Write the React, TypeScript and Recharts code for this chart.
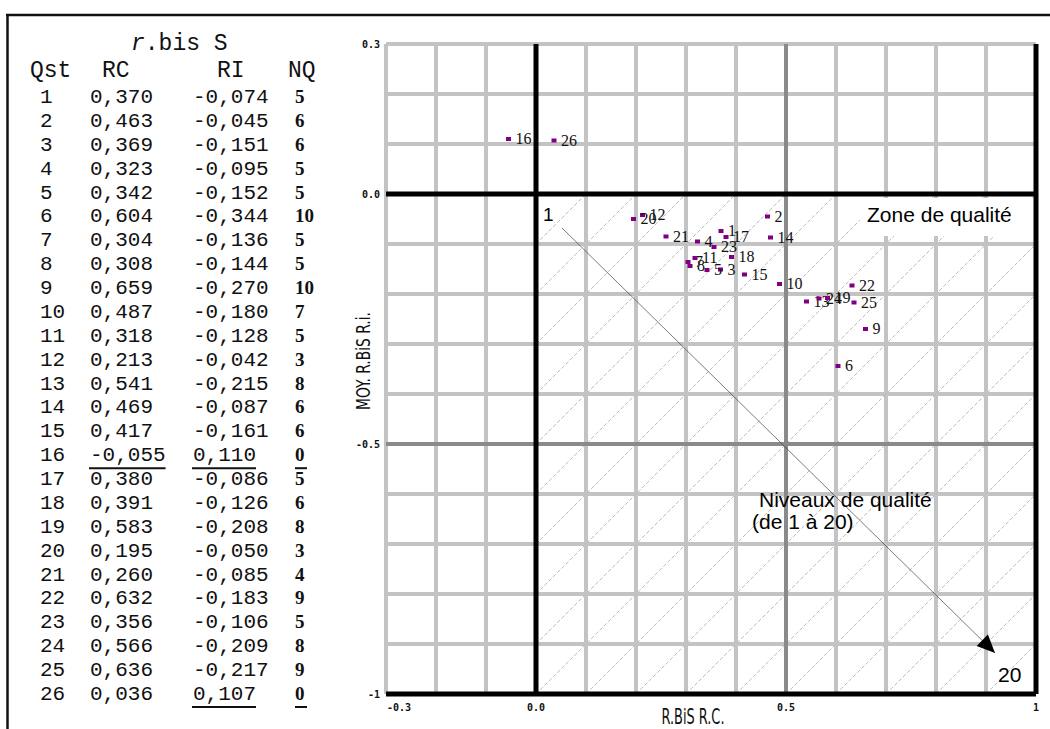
import React from "react";
import {
  ScatterChart,
  Scatter,
  XAxis,
  YAxis,
  CartesianGrid,
  ReferenceLine,
  ReferenceDot,
} from "recharts";

// table / series data (Qst, RC = x, RI = y, NQ)
const questions = [1, 2, 3, 4, 5, 6, 7, 8, 9, 10, 11, 12, 13, 14, 15, 16, 17, 18, 19, 20, 21, 22, 23, 24, 25, 26];
const rcValues = [0.37, 0.463, 0.369, 0.323, 0.342, 0.604, 0.304, 0.308, 0.659, 0.487, 0.318, 0.213, 0.541, 0.469, 0.417, -0.055, 0.38, 0.391, 0.583, 0.195, 0.26, 0.632, 0.356, 0.566, 0.636, 0.036];
const riValues = [-0.074, -0.045, -0.151, -0.095, -0.152, -0.344, -0.136, -0.144, -0.27, -0.18, -0.128, -0.042, -0.215, -0.087, -0.161, 0.11, -0.086, -0.126, -0.208, -0.05, -0.085, -0.183, -0.106, -0.209, -0.217, 0.107];
const nqValues = [5, 6, 6, 5, 5, 10, 5, 5, 10, 7, 5, 3, 8, 6, 6, 0, 5, 6, 8, 3, 4, 9, 5, 8, 9, 0];
const underlinedRC = [16];
const underlinedRI = [16, 26];
const underlinedNQ = [16, 26];

// axes
const xGridTicks = [-0.3, -0.2, -0.1, 0, 0.1, 0.2, 0.3, 0.4, 0.5, 0.6, 0.7, 0.8, 0.9, 1];
const yGridTicks = [0.3, 0.2, 0.1, 0, -0.1, -0.2, -0.3, -0.4, -0.5, -0.6, -0.7, -0.8, -0.9, -1];
const xLabelValues = [-0.3, 0, 0.5, 1];
const xLabelTexts = ["-0.3", "0.0", "0.5", "1"];
const yLabelValues = [0.3, 0, -0.5, -1];
const yLabelTexts = ["0.3", "0.0", "-0.5", "-1"];

// annotations (data coordinates)
const noteTexts = ["1", "20", "Zone de qualité", "Niveaux de qualité", "(de 1 à 20)"];
const noteX = [0.014, 0.924, 0.662, 0.446, 0.432];
const noteY = [-0.054, -0.976, -0.056, -0.626, -0.67];
const noteSizes = [19, 21, 21, 21, 21];
const arrowFrom = { x: 0.052, y: -0.068 };
const arrowTo = { x: 0.918, y: -0.918 };

const points = questions.map((q, i) => ({ q, x: rcValues[i], y: riValues[i] }));

// diagonal hatching of the x>=0, y<=0 quadrant, one diagonal per grid cell
const hatch = Array.from({ length: 19 }, (_, i) => {
  const k = Math.round((i + 1) * 10) / 100;
  const x1 = Math.max(0, k - 1);
  const x2 = Math.min(1, k);
  return [
    { x: x1, y: x1 - k },
    { x: x2, y: x2 - k },
  ];
});

const fmt = (v: number) => v.toFixed(3).replace(".", ",");
const near = (a: number, b: number) => Math.abs(a - b) < 1e-6;

const tickFont = "'DejaVu Sans Mono', monospace";

const XTick = (props: any) => {
  const { x, y, payload } = props;
  const i = xLabelValues.findIndex((v) => near(v, payload.value));
  if (i < 0) return <g />;
  return (
    <text
      x={i === 0 ? x + 1 : x}
      y={y + 4}
      textAnchor={i === 0 ? "start" : "middle"}
      fontFamily={tickFont}
      fontWeight="bold"
      fontSize={10}
      fill="#111"
    >
      {xLabelTexts[i]}
    </text>
  );
};

const YTick = (props: any) => {
  const { x, y, payload } = props;
  const i = yLabelValues.findIndex((v) => near(v, payload.value));
  if (i < 0) return <g />;
  return (
    <text x={x} y={y + 4} textAnchor="end" fontFamily={tickFont} fontWeight="bold" fontSize={10} fill="#111">
      {yLabelTexts[i]}
    </text>
  );
};

const PointShape = (props: any) => {
  const { cx, cy, payload } = props;
  return (
    <g>
      <rect x={cx - 2.5} y={cy - 2} width={5} height={4} fill="#800080" />
      <text x={cx + 7} y={cy + 5} fontFamily="'Liberation Serif', 'Times New Roman', serif" fontSize={16} fill="#111">
        {payload.q}
      </text>
    </g>
  );
};

const noteShape = (i: number) => (props: any) => {
  const { cx, cy } = props;
  return (
    <g>
      {i === 2 && <rect x={cx - 7} y={cy - 24} width={172} height={38} fill="#fff" />}
      <text x={cx} y={cy} fontFamily="'Liberation Sans', Arial, sans-serif" fontSize={noteSizes[i]} fill="#000">
        {noteTexts[i]}
      </text>
    </g>
  );
};

const ArrowHead = (props: any) => {
  const { cx, cy } = props;
  const d = 18 / Math.SQRT2;
  const w = 8 / Math.SQRT2;
  const bx = cx - d;
  const by = cy - d;
  return <polygon points={`${cx},${cy} ${bx + w},${by - w} ${bx - w},${by + w}`} fill="#000" />;
};

const mono = "'Liberation Mono', 'Courier New', monospace";
const rowBase = 103;
const rowStep = 23.88;
const charW = 12.6;

function Table() {
  return (
    <svg width={1050} height={729} style={{ position: "absolute", left: 0, top: 0, pointerEvents: "none" }}>
      <line x1={6} y1={15} x2={1050} y2={15} stroke="#111" strokeWidth={2.5} />
      <line x1={7.5} y1={14} x2={7.5} y2={729} stroke="#111" strokeWidth={2.5} />
      <text x={131} y={50} fontFamily={mono} fontSize={23} fill="#111">
        <tspan fontStyle="italic">r</tspan>.bis S
      </text>
      <text y={77} fontFamily={mono} fontSize={23} fill="#111">
        <tspan x={30}>Qst</tspan>
        <tspan x={102}>RC</tspan>
        <tspan x={217}>RI</tspan>
        <tspan x={288}>NQ</tspan>
      </text>
      {questions.map((q, i) => {
        const y = rowBase + i * rowStep;
        const rc = fmt(rcValues[i]);
        const ri = fmt(riValues[i]);
        return (
          <g key={q}>
            <text y={y} fontFamily={mono} fontSize={21} fill="#111">
              <tspan x={40}>{q}</tspan>
              <tspan x={90}>{rc}</tspan>
              <tspan x={193}>{ri}</tspan>
            </text>
            <text x={295} y={y} fontFamily="'Liberation Serif', serif" fontWeight="bold" fontSize={19} fill="#111">
              {nqValues[i]}
            </text>
            {underlinedRC.includes(q) && (
              <line x1={89} x2={90 + rc.length * charW} y1={y + 7} y2={y + 7} stroke="#111" strokeWidth={2} />
            )}
            {underlinedRI.includes(q) && (
              <line x1={192} x2={193 + ri.length * charW} y1={y + 7} y2={y + 7} stroke="#111" strokeWidth={2} />
            )}
            {underlinedNQ.includes(q) && (
              <line x1={295} x2={307} y1={y + 7} y2={y + 7} stroke="#111" strokeWidth={2} />
            )}
          </g>
        );
      })}
      <text
        x={693}
        y={724}
        textAnchor="middle"
        fontFamily="'Liberation Sans Narrow', 'DejaVu Sans Condensed', sans-serif"
        fontSize={21}
        textLength={63}
        lengthAdjust="spacingAndGlyphs"
        fill="#111"
      >
        R.BiS R.C.
      </text>
      <text
        x={370}
        y={361}
        transform="rotate(-90 370 361)"
        textAnchor="middle"
        fontFamily="'Liberation Sans Narrow', 'DejaVu Sans Condensed', sans-serif"
        fontSize={19}
        textLength={98}
        lengthAdjust="spacingAndGlyphs"
        fill="#111"
      >
        MOY. R.BiS R.i.
      </text>
    </svg>
  );
}

export default function App() {
  return (
    <div style={{ position: "absolute", left: 0, top: 0, width: 1050, height: 729, background: "#fff" }}>
      <ScatterChart width={1050} height={729} margin={{ top: 44, right: 14, bottom: 5, left: 346 }}>
        <CartesianGrid stroke="#c3c3c3" strokeWidth={4} />
        <XAxis
          type="number"
          dataKey="x"
          domain={[-0.3, 1]}
          ticks={xGridTicks}
          interval={0}
          height={30}
          tickLine={false}
          axisLine={false}
          tickSize={0}
          tickMargin={13}
          tick={<XTick />}
          allowDataOverflow
        />
        <YAxis
          type="number"
          dataKey="y"
          domain={[-1, 0.3]}
          ticks={yGridTicks}
          interval={0}
          width={40}
          tickLine={false}
          axisLine={false}
          tickSize={0}
          tickMargin={6}
          tick={<YTick />}
          allowDataOverflow
        />
        {hatch.map((seg, i) => (
          <ReferenceLine key={"h" + i} segment={seg} stroke="#bdbdbd" strokeWidth={1} strokeDasharray="4 2" />
        ))}
        <ReferenceLine y={-0.5} stroke="#8a8a8a" strokeWidth={4} />
        <ReferenceLine x={0.5} stroke="#8a8a8a" strokeWidth={4} />
        <ReferenceLine x={0} stroke="#000" strokeWidth={5} />
        <ReferenceLine y={0} stroke="#000" strokeWidth={5} />
        <ReferenceLine y={-1} stroke="#000" strokeWidth={5} />
        <ReferenceLine x={1} stroke="#000" strokeWidth={5} />
        {noteTexts.map((t, i) => (
          <ReferenceDot key={t} x={noteX[i]} y={noteY[i]} r={0} shape={noteShape(i)} />
        ))}
        <ReferenceLine segment={[arrowFrom, arrowTo]} stroke="#444" strokeWidth={0.7} />
        <ReferenceDot x={arrowTo.x} y={arrowTo.y} r={0} shape={ArrowHead} />
        <Scatter data={points} shape={PointShape} isAnimationActive={false} />
      </ScatterChart>
      <Table />
    </div>
  );
}
